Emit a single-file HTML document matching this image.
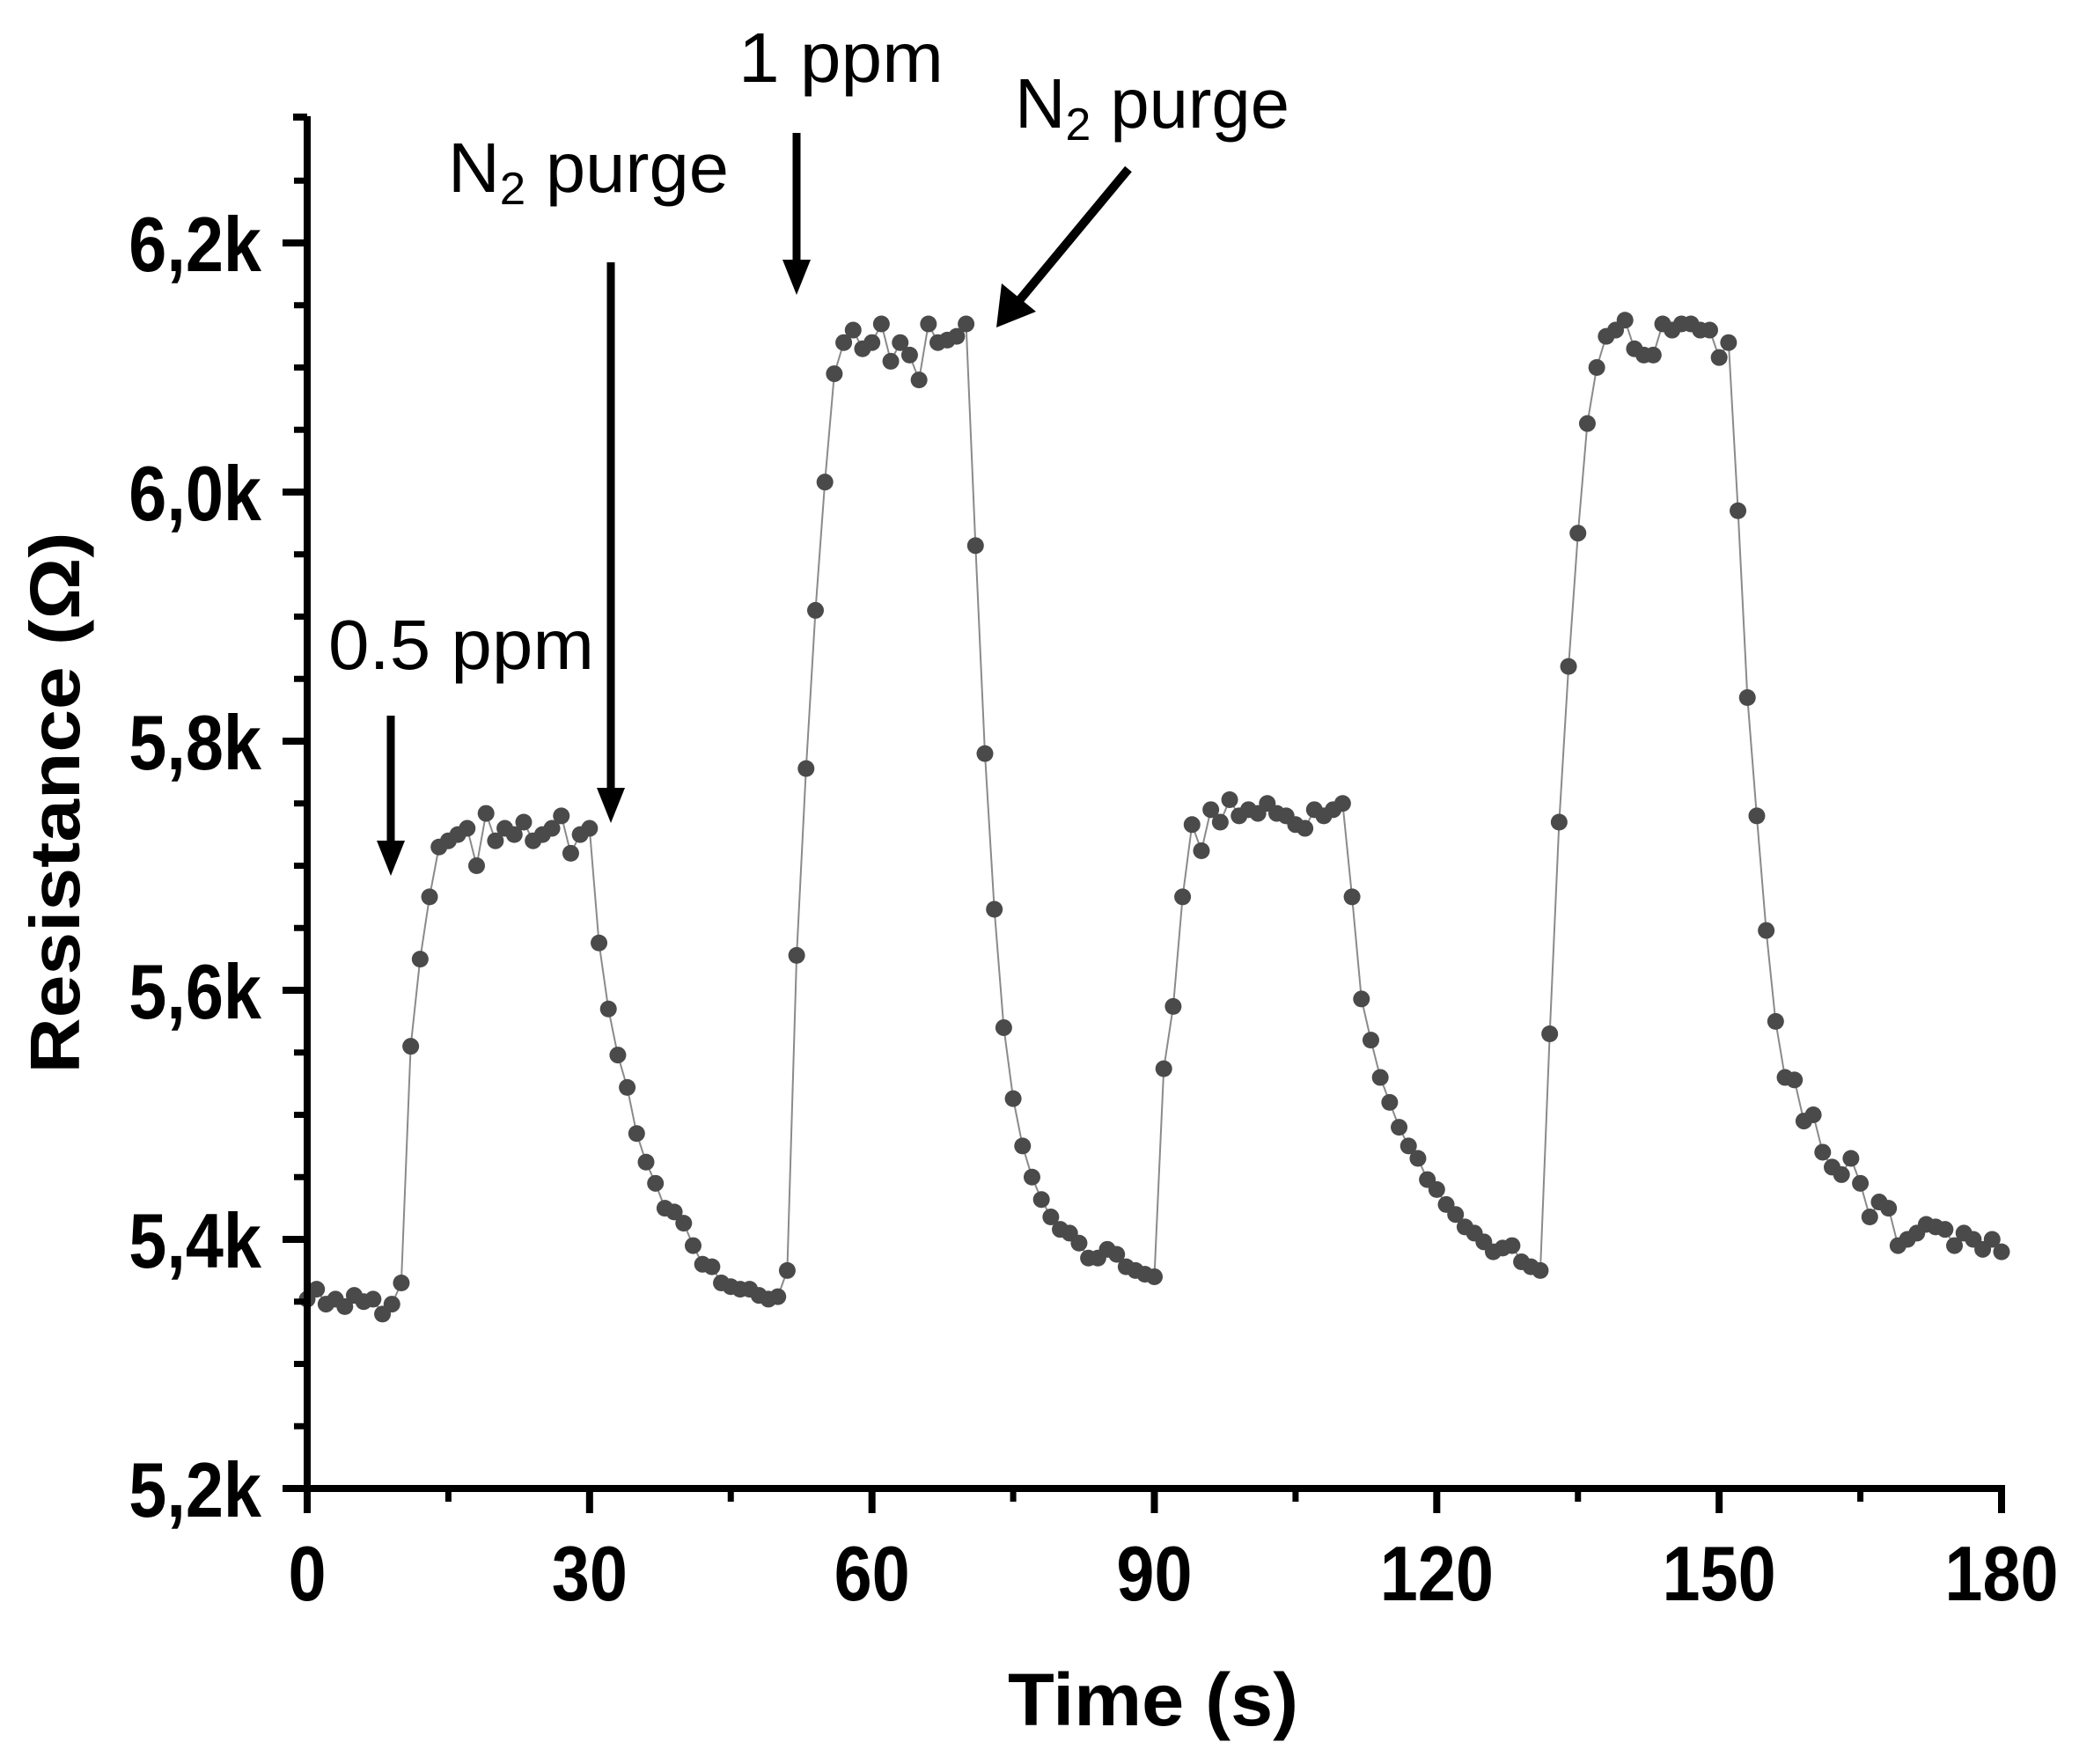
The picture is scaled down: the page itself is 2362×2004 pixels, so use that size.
<!DOCTYPE html>
<html><head><meta charset="utf-8">
<style>
html,body{margin:0;padding:0;background:#fff;}
svg{display:block;}
.tick{font-family:"Liberation Sans",sans-serif;font-weight:bold;font-size:88px;fill:#000;}
.ann{font-family:"Liberation Sans",sans-serif;font-size:80px;fill:#000;}
</style></head>
<body>
<svg id="chart" width="2362" height="2004" viewBox="0 0 2362 2004" xmlns="http://www.w3.org/2000/svg">
<g id="plot"></g>
</svg>
<script>
const times = [];
for (let i = 0; i <= 180; i++) times.push(i);
const resistanceK = [
5.352,5.36,5.348,5.352,5.346,5.355,5.35,5.352,5.34,5.348,5.365,
5.555,5.625,5.675,5.715,5.72,5.725,5.73,5.70,5.742,5.72,5.73,5.725,5.735,5.72,5.725,5.73,5.74,5.71,5.725,5.73,
5.638,5.585,5.548,5.522,5.485,5.462,5.445,5.425,5.422,5.413,5.395,5.38,5.378,5.365,5.362,5.36,5.36,5.355,5.352,5.354,5.375,
5.628,5.778,5.905,6.008,6.095,6.12,6.13,6.115,6.12,6.135,6.105,6.12,6.11,6.09,6.135,6.12,6.122,6.125,6.135,
5.957,5.79,5.665,5.57,5.513,5.475,5.45,5.432,5.418,5.408,5.405,5.397,5.385,5.385,5.392,5.388,5.378,5.375,5.372,5.37,
5.537,5.587,5.675,5.733,5.712,5.745,5.735,5.753,5.74,5.745,5.742,5.75,5.742,5.74,5.733,5.73,5.745,5.74,5.745,5.75,
5.675,5.593,5.56,5.53,5.51,5.49,5.475,5.465,5.448,5.44,5.428,5.42,5.41,5.405,5.398,5.39,5.393,5.395,5.382,5.378,5.375,
5.565,5.735,5.86,5.967,6.055,6.1,6.125,6.13,6.138,6.115,6.11,6.11,6.135,6.13,6.135,6.135,6.13,6.13,6.108,6.12,
5.985,5.835,5.74,5.648,5.575,5.53,5.528,5.495,5.5,5.47,5.458,5.452,5.465,5.445,5.418,5.43,5.425,5.395,5.4,5.405,5.412,5.41,5.408,5.395,5.405,5.4,5.392,5.4,5.39
];
const xTicks = [0,30,60,90,120,150,180];
const xTickLabels = ["0","30","60","90","120","150","180"];
const yTicks = [5.2,5.4,5.6,5.8,6.0,6.2];
const yTickLabels = ["5,2k","5,4k","5,6k","5,8k","6,0k","6,2k"];

const X0=349, X1=2274, Y0=1691, Y1=276;
function xs(t){return X0+(t-0)/(180-0)*(X1-X0);}
function ys(v){return Y0-(v-5.2)/(6.2-5.2)*(Y0-Y1);}
const NS="http://www.w3.org/2000/svg";
const g=document.getElementById('plot');
function mk(tag,attrs,parent){const e=document.createElementNS(NS,tag);for(const k in attrs)e.setAttribute(k,attrs[k]);(parent||g).appendChild(e);return e;}

let d='';
for(let i=0;i<resistanceK.length;i++){d+=(i?'L':'M')+xs(times[i]).toFixed(1)+' '+ys(resistanceK[i]).toFixed(1);}
const line=mk('path',{d:d,fill:'none',stroke:'#8a8a8a','stroke-width':2});


for(let i=0;i<resistanceK.length;i++){
  const c=mk('circle',{cx:xs(times[i]),cy:ys(resistanceK[i]),r:9.5,fill:'#4a4a4a'});
  
  
}

const ax=mk('line',{x1:X0,y1:132,x2:X0,y2:Y0+4,stroke:'#000','stroke-width':8});


const bx=mk('line',{x1:X0-4,y1:Y0,x2:X1+4,y2:Y0,stroke:'#000','stroke-width':8});


mk('line',{x1:X0-16,y1:133,x2:X0,y2:133,stroke:'#000','stroke-width':8});

for(let i=0;i<xTicks.length;i++){
  const x=xs(xTicks[i]);
  mk('line',{x1:x,y1:Y0,x2:x,y2:Y0+28,stroke:'#000','stroke-width':8});
  const t=mk('text',{x:x,y:1818,'text-anchor':'middle',class:'tick',transform:`translate(${x},0) scale(0.88,1) translate(${-x},0)`});
  t.textContent=xTickLabels[i];
  
  
  if(i<xTicks.length-1){const m=xs(xTicks[i]+15);mk('line',{x1:m,y1:Y0,x2:m,y2:Y0+15,stroke:'#000','stroke-width':7});}
}
for(let i=0;i<yTicks.length;i++){
  const y=ys(yTicks[i]);
  mk('line',{x1:X0-28,y1:y,x2:X0,y2:y,stroke:'#000','stroke-width':8});
  const t=mk('text',{x:297,y:y+32,'text-anchor':'end',class:'tick',transform:`translate(297,0) scale(0.88,1) translate(-297,0)`});
  t.textContent=yTickLabels[i];
  
  
  for(const dv of [0.05,0.1,0.15]){
    if(yTicks[i]+dv<=6.29 && (i<yTicks.length-1 || dv<=0.1)){
      const my=ys(yTicks[i]+dv);
      if(my>135) mk('line',{x1:X0-15,y1:my,x2:X0,y2:my,stroke:'#000','stroke-width':7});
    }
  }
}
</script>
<svg style="position:absolute;left:0;top:0" width="2362" height="2004" xmlns="http://www.w3.org/2000/svg">
<text x="1310" y="1960" text-anchor="middle" font-family="Liberation Sans, sans-serif" font-weight="bold" font-size="84" textLength="330" lengthAdjust="spacingAndGlyphs">Time (s)</text>
<text transform="translate(90,912) rotate(-90)" text-anchor="middle" font-family="Liberation Sans, sans-serif" font-weight="bold" font-size="80" textLength="615" lengthAdjust="spacingAndGlyphs">Resistance (Ω)</text>

<text class="ann" x="373" y="760" textLength="302" lengthAdjust="spacingAndGlyphs">0.5 ppm</text>
<text class="ann" x="509" y="218" textLength="319" lengthAdjust="spacingAndGlyphs">N<tspan font-size="52" dy="14">2</tspan><tspan dy="-14"> purge</tspan></text>
<text class="ann" x="839" y="93" textLength="233" lengthAdjust="spacingAndGlyphs">1 ppm</text>
<text class="ann" x="1153" y="145" textLength="312" lengthAdjust="spacingAndGlyphs">N<tspan font-size="52" dy="14">2</tspan><tspan dy="-14"> purge</tspan></text>

<g>
<line x1="444" y1="813" x2="444" y2="960" stroke="#000" stroke-width="9"/>
<polygon points="428,955 460,955 444,995" fill="#000"/></g>
<g>
<line x1="694" y1="298" x2="694" y2="900" stroke="#000" stroke-width="9"/>
<polygon points="678,895 710,895 694,935" fill="#000"/></g>
<g>
<line x1="905" y1="151" x2="905" y2="300" stroke="#000" stroke-width="9"/>
<polygon points="889,295 921,295 905,335" fill="#000"/></g>
<g>
<line x1="1282" y1="192" x2="1155" y2="345" stroke="#000" stroke-width="10"/>
<polygon points="1132,372 1138,322 1177,354" fill="#000"/></g>
</svg>
</body></html>
